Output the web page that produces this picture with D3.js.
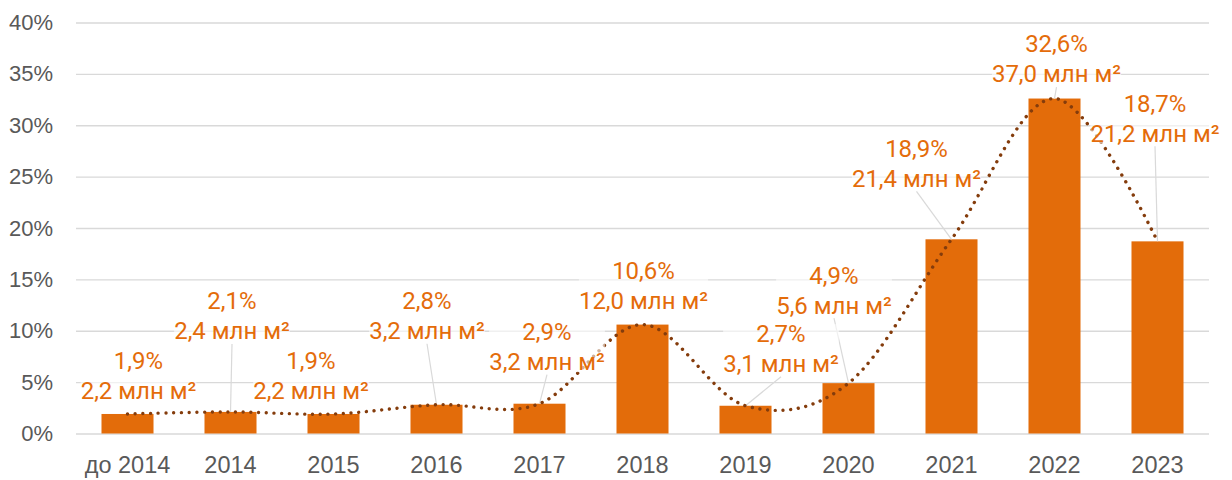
<!DOCTYPE html>
<html>
<head>
<meta charset="utf-8">
<script src="https://cdn.jsdelivr.net/npm/d3@7"></script>
<style>
  body { margin: 0; background: #fff; }
  svg { display: block; font-family: Roboto, "Noto Sans", sans-serif; }
  .tick line { stroke: #d9d9d9; stroke-width: 1.3; }
  .tick text { fill: #595959; }
  .y-axis .tick text { font-size: 22px; }
  .x-axis .tick text { font-size: 23.5px; }
</style>
</head>
<body>
<div id="chart"></div>
<script>
// data
var years = ["до 2014", "2014", "2015", "2016", "2017", "2018", "2019", "2020", "2021", "2022", "2023"];
var sharePct = [1.9, 2.1, 1.9, 2.8, 2.9, 10.6, 2.7, 4.9, 18.9, 32.6, 18.7];
var areaMln = [2.2, 2.4, 2.2, 3.2, 3.2, 12.0, 3.1, 5.6, 21.4, 37.0, 21.2];
var yTicks = [0, 5, 10, 15, 20, 25, 30, 35, 40];

// hand placed data labels (px offset of 2nd line centre from bar top / bar centre)
var labelDx = [11, 1.5, -22.5, -9.5, 7.5, 1, 35.5, -14.5, -35, 2, -2.5];
var labelDy = [-23, -81, -23, -74, -42, -24, -42, -78, -61, -24.5, -108];
var hasLeader = [false, true, false, true, true, false, true, true, true, true, true];

var svgWidth = 1232;
var svgHeight = 480;
var margin = {top: 22.5, right: 23, bottom: 46.5, left: 76};
var chartWidth = svgWidth - margin.left - margin.right;
var chartHeight = svgHeight - margin.top - margin.bottom;

var ru = d3.formatLocale({decimal: ",", thousands: " ", grouping: [3], currency: ["", ""]});
var f1 = ru.format(".1f");

var points = years.map(function(y, i) {
  return {year: y, pct: sharePct[i], area: areaMln[i], i: i};
});

var svg = d3.select("#chart").append("svg")
  .attr("width", svgWidth)
  .attr("height", svgHeight);

var chartGroup = svg.append("g")
  .attr("transform", `translate(${margin.left}, ${margin.top})`);

var xScale = d3.scaleBand().domain(years).range([0, chartWidth])
  .paddingInner(0.495).paddingOuter(0.2475);
var yScale = d3.scaleLinear().domain([0, 40]).range([chartHeight, 0]);

// gridlines + y labels
var leftAxis = d3.axisLeft(yScale).tickValues(yTicks)
  .tickSize(-chartWidth).tickPadding(23)
  .tickFormat(function(d) { return d + "%"; });
chartGroup.append("g").attr("class", "y-axis").call(leftAxis)
  .call(function(g) { g.select(".domain").remove(); });

var bottomAxis = d3.axisBottom(xScale).tickSize(0).tickPadding(23);
chartGroup.append("g")
  .attr("class", "x-axis")
  .attr("transform", `translate(0, ${chartHeight})`)
  .call(bottomAxis)
  .call(function(g) { g.select(".domain").remove(); });

// bars
chartGroup.selectAll("rect.bar").data(points)
  .enter().append("rect")
  .attr("class", "bar")
  .attr("x", function(d) { return xScale(d.year); })
  .attr("y", function(d) { return yScale(d.pct); })
  .attr("width", xScale.bandwidth())
  .attr("height", function(d) { return chartHeight - yScale(d.pct); })
  .attr("fill", "#E36C0A");

function cx(d) { return xScale(d.year) + xScale.bandwidth() / 2; }

// leader lines
chartGroup.selectAll("line.leader")
  .data(points.filter(function(d) { return hasLeader[d.i]; }))
  .enter().append("line")
  .attr("class", "leader")
  .attr("x1", function(d) { return cx(d) + labelDx[d.i]; })
  .attr("y1", function(d) { return yScale(d.pct) + labelDy[d.i] + 13; })
  .attr("x2", function(d) { return cx(d); })
  .attr("y2", function(d) { return yScale(d.pct); })
  .attr("stroke", "#d9d9d9")
  .attr("stroke-width", 1.2);

// smoothed dotted trend line
var trend = d3.line()
  .x(function(d) { return cx(d); })
  .y(function(d) { return yScale(d.pct); })
  .curve(d3.curveCardinal.tension(0));

chartGroup.append("path")
  .datum(points)
  .attr("d", trend)
  .attr("fill", "none")
  .attr("stroke", "#843C0C")
  .attr("stroke-width", 3.4)
  .attr("stroke-linecap", "round")
  .attr("stroke-dasharray", "0.01 7.7");

// data labels
var labels = chartGroup.selectAll("g.lbl").data(points)
  .enter().append("g")
  .attr("class", "lbl")
  .attr("transform", function(d) {
    return `translate(${cx(d) + labelDx[d.i]}, ${yScale(d.pct) + labelDy[d.i]})`;
  });

labels.append("rect");

labels.append("text")
  .attr("text-anchor", "middle")
  .attr("y", -30)
  .attr("dy", "0.35em")
  .style("font-size", "24px")
  .attr("fill", "#E46C0A")
  .text(function(d) { return f1(d.pct) + "%"; });

labels.append("text")
  .attr("text-anchor", "middle")
  .attr("dy", "0.35em")
  .style("font-size", "24px")
  .attr("fill", "#E46C0A")
  .text(function(d) { return f1(d.area) + " млн м²"; });

labels.each(function() {
  var g = d3.select(this);
  var bb = this.getBBox();
  g.select("rect")
    .attr("x", bb.x).attr("y", bb.y + 4)
    .attr("width", bb.width).attr("height", bb.height - 8)
    .attr("fill", "#fff").attr("fill-opacity", 0.6);
});
</script>
</body>
</html>
